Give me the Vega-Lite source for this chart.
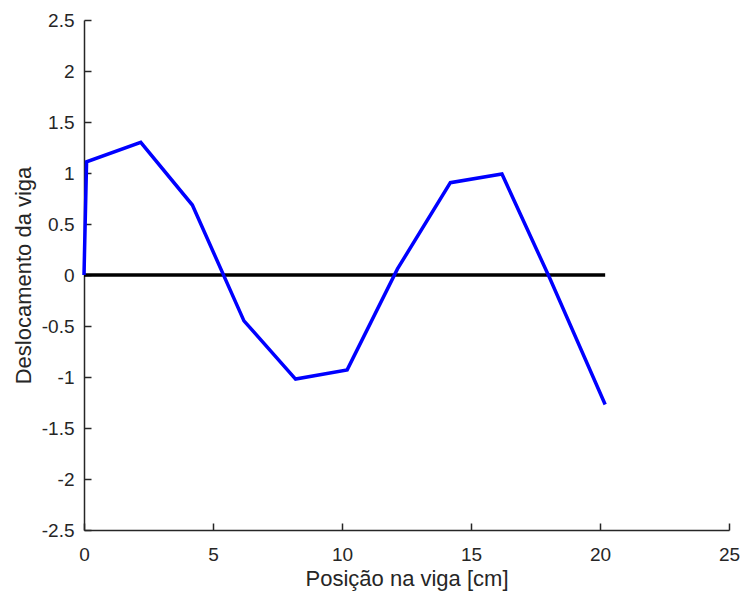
{
  "$schema": "https://vega.github.io/schema/vega-lite/v6.json",
  "width": 645,
  "height": 510,
  "autosize": {"type": "none"},
  "padding": {"left": 84, "top": 20, "right": 15, "bottom": 65},
  "background": "white",
  "config": {
    "view": {"stroke": null},
    "font": "Liberation Sans",
    "axis": {
      "domainColor": "#262626",
      "domainWidth": 1.5,
      "tickColor": "#262626",
      "tickWidth": 1.5,
      "tickSize": -7,
      "labelColor": "#262626",
      "titleColor": "#262626",
      "labelFont": "Liberation Sans",
      "titleFont": "Liberation Sans",
      "labelFontSize": 19,
      "titleFontSize": 22,
      "titleFontWeight": "normal",
      "labelFlush": false,
      "labelOverlap": false,
      "labelExpr": "'' + datum.value",
      "grid": false
    }
  },
  "datasets": {
    "zero": [
      {"x": 0, "y": 0},
      {"x": 20.2, "y": 0}
    ],
    "viga": [
      {"x": 0, "y": 0},
      {"x": 0.1, "y": 1.11},
      {"x": 2.2, "y": 1.3},
      {"x": 4.2, "y": 0.686},
      {"x": 6.2, "y": -0.45},
      {"x": 8.2, "y": -1.02},
      {"x": 10.2, "y": -0.93},
      {"x": 12.15, "y": 0.06},
      {"x": 14.2, "y": 0.905},
      {"x": 16.2, "y": 0.99},
      {"x": 18.05, "y": -0.03},
      {"x": 20.2, "y": -1.27}
    ]
  },
  "layer": [
    {
      "data": {"name": "zero"},
      "mark": {"type": "line", "color": "black", "strokeWidth": 3.5},
      "encoding": {
        "x": {"field": "x", "type": "quantitative", "scale": {"domain": [0, 25], "nice": false},
          "axis": {"title": "Posição na viga [cm]", "values": [0, 5, 10, 15, 20, 25], "labelPadding": 22, "titlePadding": 4}},
        "y": {"field": "y", "type": "quantitative", "scale": {"domain": [-2.5, 2.5], "nice": false, "zero": false},
          "axis": {"title": "Deslocamento da viga", "values": [-2.5, -2, -1.5, -1, -0.5, 0, 0.5, 1, 1.5, 2, 2.5], "labelPadding": 17, "titlePadding": 6}}
      }
    },
    {
      "data": {"name": "viga"},
      "mark": {"type": "line", "color": "#0000ff", "strokeWidth": 3.5},
      "encoding": {
        "x": {"field": "x", "type": "quantitative"},
        "y": {"field": "y", "type": "quantitative"},
        "order": {"field": "x", "type": "quantitative"}
      }
    }
  ]
}
